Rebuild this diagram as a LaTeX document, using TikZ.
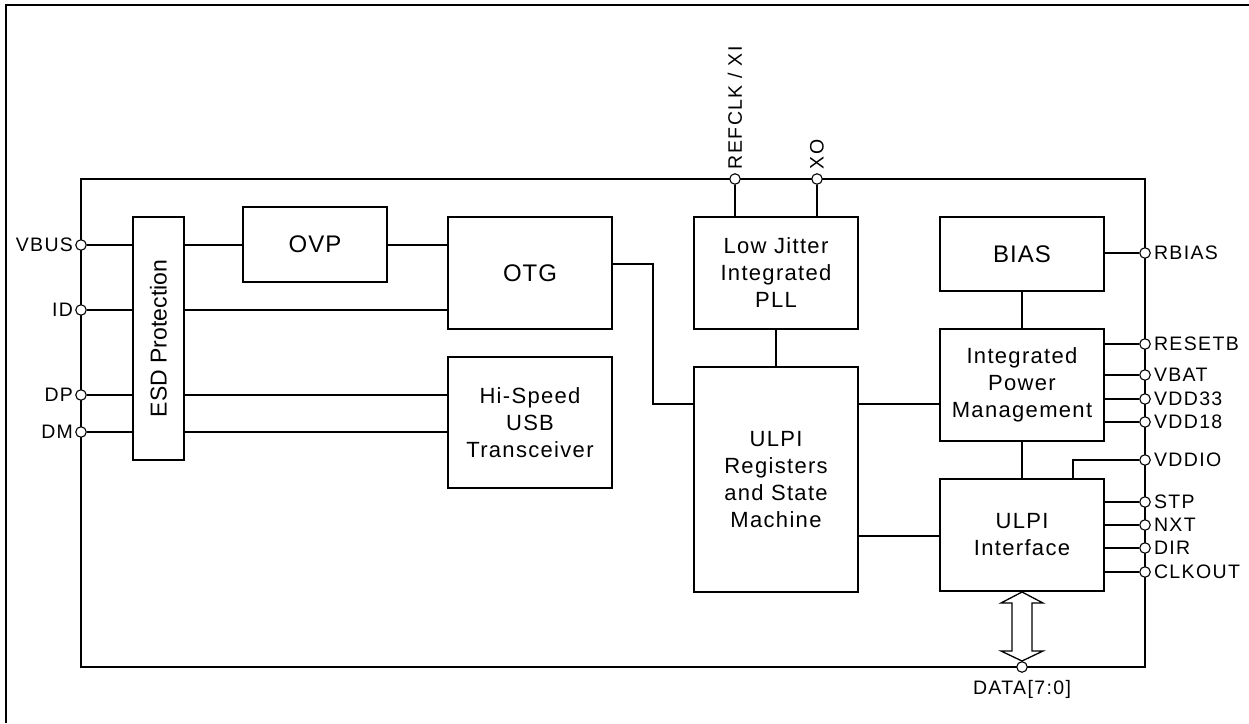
\documentclass[tikz,border=0pt]{standalone}
\usepackage{fontspec}
\setmainfont{Liberation Sans}
\newfontfamily\pinf[LetterSpace=7]{Liberation Sans}
\newfontfamily\boxf[LetterSpace=6]{Liberation Sans}
\newfontfamily\bigf[LetterSpace=4]{Liberation Sans}
\usetikzlibrary{calc}
\tikzset{
  blk/.style={draw, line width=1.3pt, inner sep=0pt, outer sep=0pt, align=center,
    font=\boxf\fontsize{22}{27}\selectfont},
  bigtxt/.style={font=\bigf\fontsize{24}{28}\selectfont},
  pin/.style={circle, draw, fill=white, minimum size=10.5pt, inner sep=0pt, line width=1.1pt},
  lab/.style={font=\pinf\fontsize{19.5}{21}\selectfont, inner sep=0pt},
  wire/.style={line width=1.2pt},
}
\begin{document}
\begin{tikzpicture}[x=1pt,y=-1pt]
\useasboundingbox (0,0) rectangle (1249,723);
% outer frame (top and left)
\draw[line width=2pt] (6,723) -- (6,5) -- (1249,5);
% chip outline
\draw[line width=1.2pt] (81,179) rectangle (1145,667);
% blocks
\node[blk, minimum width=51pt, minimum height=243pt] (esd) at (158.5,338.5) {};
\node[rotate=90, font=\fontsize{23}{26}\selectfont, inner sep=0pt] at (esd.center) {ESD Protection};
\node[blk, bigtxt, minimum width=144pt, minimum height=75pt] (ovp) at (315,244.5) {OVP};
\node[blk, bigtxt, minimum width=164pt, minimum height=112pt] (otg) at (530,273) {OTG};
\node[blk, minimum width=164pt, minimum height=131pt] (hs) at (530,422.5) {Hi-Speed\\USB\\Transceiver};
\node[blk, minimum width=164pt, minimum height=112pt] (pll) at (776,273) {Low Jitter\\Integrated\\PLL};
\node[blk, minimum width=164pt, minimum height=225pt] (reg) at (776,479.5) {ULPI\\Registers\\and State\\Machine};
\node[blk, bigtxt, minimum width=164pt, minimum height=74pt] (bias) at (1022,254) {BIAS};
\node[blk, minimum width=164pt, minimum height=112pt] (ipm) at (1022,385) {Integrated\\Power\\Management};
\node[blk, minimum width=164pt, minimum height=112pt] (uif) at (1022,535) {ULPI\\Interface};
% left pins
\node[pin] (pvbus) at (81,245) {};
\node[pin] (pid) at (81,310) {};
\node[pin] (pdp) at (81,395) {};
\node[pin] (pdm) at (81,432) {};
\node[lab, anchor=east] at ([xshift=-2pt]pvbus.west) {VBUS};
\node[lab, anchor=east] at ([xshift=-2pt]pid.west) {ID};
\node[lab, anchor=east] at ([xshift=-2pt]pdp.west) {DP};
\node[lab, anchor=east] at ([xshift=-2pt]pdm.west) {DM};
% top pins
\node[pin] (pref) at (735,179) {};
\node[pin] (pxo) at (817,179) {};
\node[lab, rotate=90, anchor=west] at ([yshift=4pt]pref.north) {REFCLK / XI};
\node[lab, rotate=90, anchor=west] at ([yshift=4pt]pxo.north) {XO};
% right pins
\foreach \n/\y/\t in {prb/253/RBIAS, prst/344/RESETB, pvbat/375/VBAT, pv33/399/VDD33, pv18/422/VDD18, pvio/460/VDDIO, pstp/502/STP, pnxt/525/NXT, pdir/548/DIR, pclk/572/CLKOUT}{
  \node[pin] (\n) at (1145,\y) {};
  \node[lab, anchor=west] at ([xshift=3pt]\n.east) {\t};
}
% bottom pin
\node[pin] (pdata) at (1022,667) {};
\node[lab, anchor=base] at (1022,694) {DATA[7:0]};
% connectors left side
\draw[wire] (pvbus) -- (pvbus -| esd.west);
\draw[wire] (esd.east |- pvbus) -- (pvbus -| ovp.west);
\draw[wire] (ovp.east |- pvbus) -- (pvbus -| otg.west);
\draw[wire] (pid) -- (pid -| esd.west);
\draw[wire] (esd.east |- pid) -- (pid -| otg.west);
\draw[wire] (pdp) -- (pdp -| esd.west);
\draw[wire] (esd.east |- pdp) -- (pdp -| hs.west);
\draw[wire] (pdm) -- (pdm -| esd.west);
\draw[wire] (esd.east |- pdm) -- (pdm -| hs.west);
% OTG to registers
\coordinate (otgk1) at (653,264);
\coordinate (otgk2) at (653,404);
\draw[wire] (otgk1 -| otg.east) -- (otgk1) -- (otgk2) -- (otgk2 -| reg.west);
\draw[wire] ($(hs.east)+(0,19.5)$) -- ($(hs.east)+(0,19.5)$ -| reg.west);
% PLL
\draw[wire] (pref) -- (pref |- pll.north);
\draw[wire] (pxo) -- (pxo |- pll.north);
\draw[wire] (pll.south) -- (reg.north);
% registers to right blocks
\draw[wire] (reg.east |- otgk2) -- (otgk2 -| ipm.west);
\coordinate (regk) at (858,536);
\draw[wire] (regk) -- (regk -| uif.west);
% right blocks
\draw[wire] (bias.east |- prb) -- (prb);
\draw[wire] (bias.south) -- (ipm.north);
\draw[wire] (ipm.south) -- (uif.north);
\foreach \n in {prst, pvbat, pv33, pv18}{\draw[wire] (ipm.east |- \n) -- (\n);}
\foreach \n in {pstp, pnxt, pdir, pclk}{\draw[wire] (uif.east |- \n) -- (\n);}
\coordinate (viok) at (1073,460);
\draw[wire] (pvio) -- (viok) -- (viok |- uif.north);
% data double arrow
\draw[line width=1.3pt, fill=white, line join=miter]
  ($(uif.south)+(0,1)$) -- ++(21,11) -- ++(-11,0) -- ++(0,48) -- ++(11,0) -- ++(-21,10)
  -- ++(-21,-10) -- ++(11,0) -- ++(0,-48) -- ++(-11,0) -- cycle;
\end{tikzpicture}
\end{document}
